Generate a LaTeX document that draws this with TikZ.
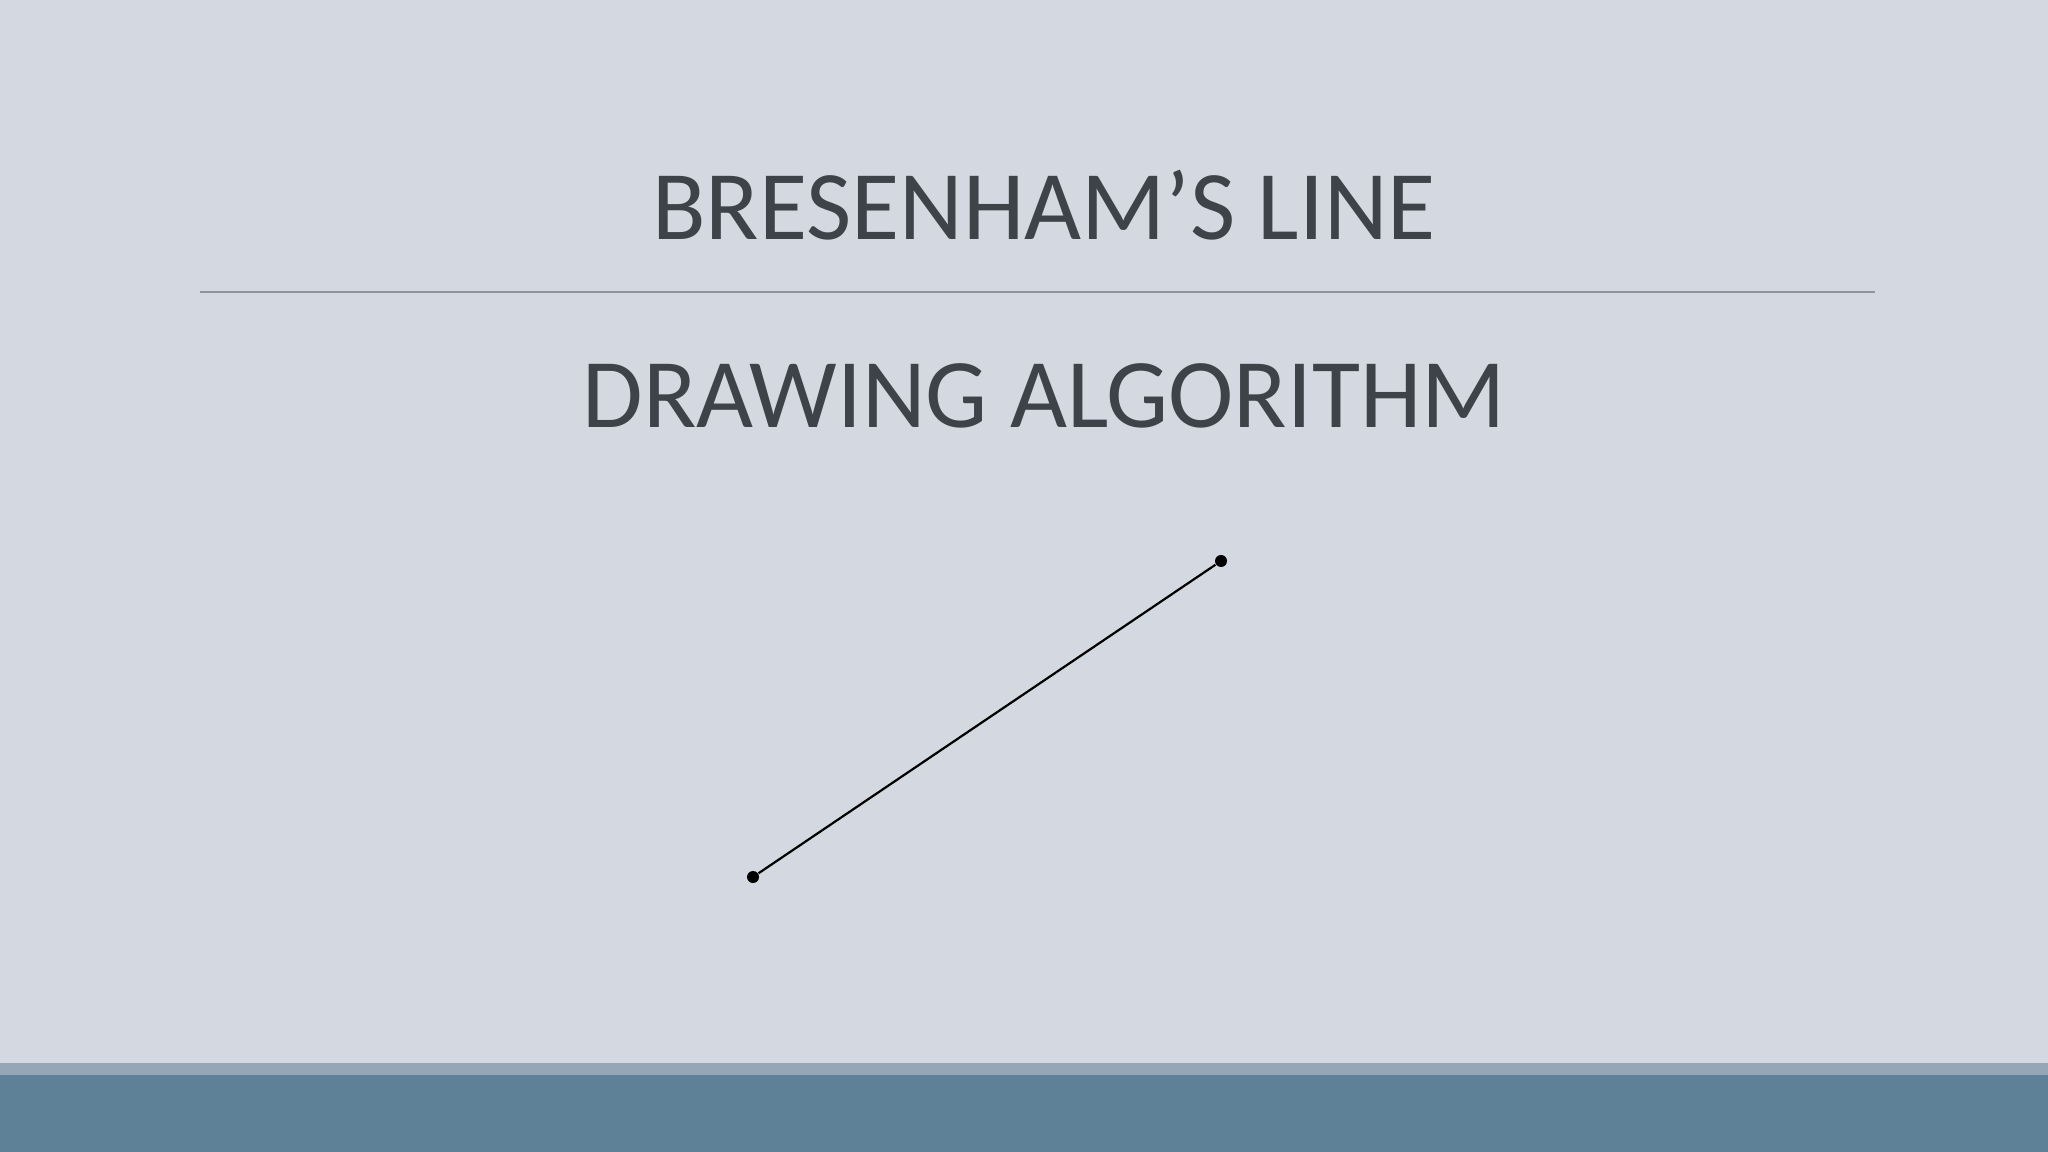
\documentclass[tikz,border=0pt]{standalone}
\usepackage{fontspec}
\setmainfont{Carlito}
\definecolor{slidebg}{HTML}{D4D9E1}
\definecolor{titlegray}{HTML}{3E4349}
\definecolor{rulegray}{HTML}{8E949C}
\definecolor{bandlight}{HTML}{95A7B7}
\definecolor{banddark}{HTML}{5F8198}
\tikzset{
  heading/.style={anchor=base, inner sep=0pt, text=titlegray, font=\fontsize{28}{34}\selectfont},
  endpt/.style={circle, fill=black, inner sep=0pt, minimum size=0.12cm}
}
\begin{document}
\begin{tikzpicture}[x=0.01cm, y=-0.01cm]
\fill[slidebg](0,0)rectangle(2048,1152);
\useasboundingbox(0,0)rectangle(2048,1152);
\fill[bandlight](0,1063)rectangle(2048,1075);
\fill[banddark](0,1075)rectangle(2048,1152);
\node[heading](top) at (1044,240) {BRESENHAM’S LINE};
\draw[rulegray, line width=0.016cm](200,292)--(1875,292);
\node[heading](bottom) at (1044,428) {DRAWING ALGORITHM};
\node[endpt](p0) at (753,877) {};
\node[endpt](p1) at (1221,561) {};
\draw[line width=0.022cm](p0)--(p1);
\end{tikzpicture}
\end{document}
